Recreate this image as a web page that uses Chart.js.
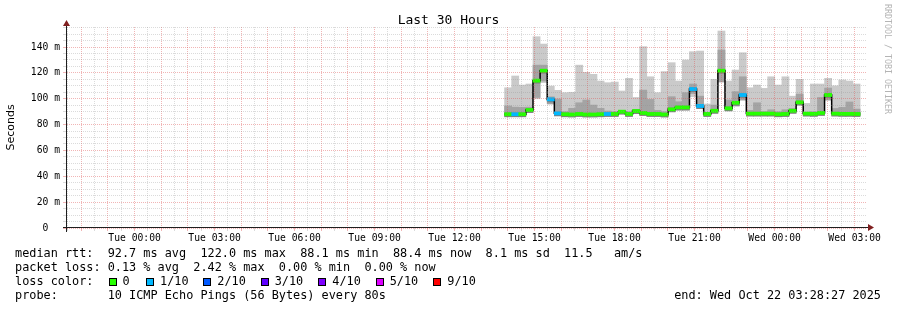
<!DOCTYPE html>
<html><head><meta charset="utf-8">
<script src="https://cdn.jsdelivr.net/npm/chart.js@4.4.1/dist/chart.umd.min.js"></script>
<style>
html,body{margin:0;padding:0;background:#fff;}
#wrap{position:relative;width:897px;height:310px;overflow:hidden;background:#fff;}
#c{position:absolute;left:0;top:0;}
.t{position:absolute;white-space:pre;font-family:"DejaVu Sans Mono",monospace;color:#000;line-height:1;}
.sq{position:absolute;width:6px;height:6px;border:1px solid #000;}
</style></head><body>
<div id="wrap"><canvas id="c" width="897" height="310"></canvas></div>
<script>
// ---- data (milliseconds) ----
const binStartHour = 13.875;   // first bin start, hours after Tue 00:00
const binMinutes = 16;
const median = [88.0, 88.0, 88.0, 91.3, 114.0, 121.7, 99.5, 88.7, 88.0, 87.8,
                88.2, 87.8, 87.8, 88.0, 88.2, 88.2, 90.0, 88.2, 90.5, 89.0,
                88.2, 88.2, 87.8, 91.8, 93.3, 93.3, 107.5, 94.4, 88.2, 90.7,
                121.7, 92.6, 96.9, 102.9, 88.5, 88.5, 88.5, 88.5, 88.0, 88.2,
                90.7, 97.2, 88.5, 88.3, 89.0, 102.9, 88.5, 88.3, 88.3, 88.2];
const lossLevel = [0,1,0,0,0,0,1,1,0,0, 0,0,0,0,1,0,0,0,0,0,
                   0,0,0,0,0,0,1,1,0,0, 0,0,0,1,0,0,0,0,0,0,
                   0,0,0,0,0,0,0,0,0,0];
const smokeHi = [108.5,117.6,110.6,111.4,148.0,142.3,109.8,106.5,104.7,105.0,
                 126.0,120.4,118.9,113.7,112.4,112.9,106.0,115.8,101.0,140.3,
                 117.0,104.7,121.0,127.9,113.7,130.0,136.4,136.9,95.9,115.0,
                 152.4,113.7,122.2,135.6,108.5,110.6,108.0,117.0,110.6,117.0,
                 102.0,115.0,96.4,111.4,111.4,115.8,110.0,114.5,113.7,111.4];
const smokeLo = [86.8,86.8,86.8,89.5,100.0,112.5,96.0,87.3,86.8,86.5,
                 86.8,86.5,86.5,86.8,87.0,87.0,88.5,87.0,89.0,87.5,
                 87.0,87.0,86.5,90.0,91.3,91.3,101.6,92.6,87.0,89.0,
                 113.0,90.7,94.4,99.0,87.3,87.3,87.3,87.3,86.8,87.0,
                 89.0,95.1,87.3,87.0,87.6,99.0,87.3,87.0,87.0,87.0];
const midLo = [86.8,86.8,86.8,89.5,101.0,113.7,96.0,87.3,86.8,86.5,
               86.8,86.5,86.5,86.8,87.0,87.0,88.5,87.0,89.0,87.5,
               87.0,87.0,86.5,90.0,91.3,91.3,104.0,92.6,87.0,89.0,
               113.0,90.7,94.4,99.0,87.3,87.3,87.3,87.3,86.8,87.0,
               89.0,95.1,87.3,87.0,87.6,99.0,87.3,87.0,87.0,87.0];
const midHi = [94.4,93.5,93.3,93.5,126.0,126.0,101.5,99.8,90.0,92.6,
               96.9,99.0,95.1,92.6,90.5,90.0,91.0,90.0,91.5,106.7,
               99.5,91.0,90.0,101.6,97.7,104.7,111.4,102.0,89.5,95.1,
               137.7,99.0,105.5,117.0,91.0,96.9,90.0,91.5,90.0,91.5,
               92.5,103.6,89.5,90.0,101.0,108.3,92.5,93.3,97.5,92.0];

const xTickHours = [0, 3, 6, 9, 12, 15, 18, 21, 24, 27];
const xTickLabels = ['Tue 00:00','Tue 03:00','Tue 06:00','Tue 09:00','Tue 12:00',
                     'Tue 15:00','Tue 18:00','Tue 21:00','Wed 00:00','Wed 03:00'];
const yTickValues = [0, 20, 40, 60, 80, 100, 120, 140];
const yTickLabels = ['0  ', '20 m', '40 m', '60 m', '80 m', '100 m', '120 m', '140 m'];

const lossColors = ['#26ff00','#00b8ff','#0059ff','#5e00ff','#7e00ff','#dd00ff','#ff0000'];
const lossLabels = ['0','1/10','2/10','3/10','4/10','5/10','9/10'];

const rttLine = 'median rtt:  92.7 ms avg  122.0 ms max  88.1 ms min  88.4 ms now  8.1 ms sd  11.5   am/s';
const lossLine = 'packet loss: 0.13 % avg  2.42 % max  0.00 % min  0.00 % now';
const probeLine = 'probe:       10 ICMP Echo Pings (56 Bytes) every 80s';
const endText = 'end: Wed Oct 22 03:28:27 2025';
const titleText = 'Last 30 Hours';

// ---- layout ----
const xMin = -2.5333, xMax = 27.4667;
const stepH = binMinutes / 60;
const N = median.length;
const centers = median.map((_, i) => binStartHour + (i + 0.5) * stepH);
const starts = median.map((_, i) => binStartHour + i * stepH);
const band = (a, b) => centers.map((x, i) => ({x, y: [a[i], b[i]]}));
const MINOR = 'rgba(143,143,143,0.32)';
const MAJOR = 'rgba(222,79,79,0.42)';
const mono = 'DejaVu Sans Mono';
const isMajorX = c => !!c.tick && Math.abs(c.tick.value - Math.round(c.tick.value)) < 1e-6;
const isMajorY = c => !!c.tick && Math.abs(c.tick.value % 20) < 1e-6;

const barBase = {type: 'bar', grouped: false, barPercentage: 1, categoryPercentage: 1, borderWidth: 0};
const noPad = s => { s.paddingLeft = 0; s.paddingRight = 0; s.paddingTop = 0; s.paddingBottom = 0; };

const axesPlugin = {
  id: 'rrdAxes',
  afterDraw(chart) {
    const {ctx, chartArea: a} = chart;
    const yb = Math.round(a.bottom) - 0.5, xl = Math.round(a.left) - 0.5;
    ctx.save();
    ctx.strokeStyle = '#1f1f1f'; ctx.lineWidth = 1;
    ctx.beginPath();
    ctx.moveTo(a.left - 4, yb); ctx.lineTo(a.right + 2, yb);
    ctx.moveTo(xl, a.bottom + 4); ctx.lineTo(xl, a.top - 2);
    ctx.stroke();
    ctx.fillStyle = '#801f1f';
    ctx.beginPath();
    ctx.moveTo(a.right + 1, yb - 3.5); ctx.lineTo(a.right + 1, yb + 3.5); ctx.lineTo(a.right + 7, yb); ctx.closePath();
    ctx.fill();
    ctx.beginPath();
    ctx.moveTo(xl - 3.5, a.top - 1); ctx.lineTo(xl + 3.5, a.top - 1); ctx.lineTo(xl, a.top - 7); ctx.closePath();
    ctx.fill();
    ctx.restore();
  }
};

try {
new Chart(document.getElementById('c'), {
  type: 'bar',
  data: {
    datasets: [
      Object.assign({}, barBase, {data: band(smokeLo, smokeHi), backgroundColor: '#cacaca', order: 5}),
      Object.assign({}, barBase, {data: band(midLo, midHi), backgroundColor: '#a4a4a4', order: 4}),
      Object.assign({}, barBase, {data: centers.map((x, i) => ({x, y: [median[i] - 2.0, median[i] + 1.0]})), backgroundColor: '#7e7e7e', order: 3}),
      {type: 'line', order: 2, stepped: true, borderColor: '#000', borderWidth: 1.5, pointRadius: 0,
       data: starts.map((x, i) => ({x, y: median[i]})).concat([{x: binStartHour + N * stepH, y: median[N - 1]}])},
      Object.assign({}, barBase, {data: centers.map((x, i) => ({x, y: [median[i] - 1.2, median[i] + 1.2]})),
        backgroundColor: lossLevel.map(l => lossColors[l]), order: 1})
    ]
  },
  options: {
    responsive: false, animation: false,
    layout: {padding: {left: 0, top: 27, right: 30, bottom: 0}},
    plugins: {legend: {display: false}, tooltip: {enabled: false}, title: {display: false}},
    scales: {
      x: {
        type: 'linear', min: xMin, max: xMax, offset: false,
        afterBuildTicks: s => { const t = []; for (let v = -2.5; v <= 27.01; v += 0.5) t.push({value: v}); s.ticks = t; },
        afterFit: s => { s.height = 82; noPad(s); },
        grid: {z: 1, lineWidth: 1, tickLength: 3, offset: false,
               color: c => (isMajorX(c) ? MAJOR : MINOR),
               tickColor: c => (isMajorX(c) ? MAJOR : MINOR)},
        border: {display: false, dash: [1, 1]},
        ticks: {autoSkip: false, maxRotation: 0, minRotation: 0, padding: 2, color: '#000',
                font: {family: mono, size: 9.7},
                callback: v => { const k = xTickHours.findIndex(h => Math.abs(h - v) < 1e-6); return k >= 0 ? xTickLabels[k] : ''; }}
      },
      y: {
        min: 0, max: 155.5,
        afterBuildTicks: s => { const t = []; for (let v = 0; v <= 155; v += 5) t.push({value: v}); s.ticks = t; },
        afterFit: s => { s.width = 67; noPad(s); },
        grid: {z: 1, lineWidth: 1, tickLength: 4,
               color: c => (isMajorY(c) ? MAJOR : MINOR),
               tickColor: c => (isMajorY(c) ? MAJOR : MINOR)},
        border: {display: false, dash: [1, 1]},
        ticks: {autoSkip: false, padding: 3, color: '#000', font: {family: mono, size: 9.7},
                callback: v => { const k = yTickValues.indexOf(v); return k >= 0 ? yTickLabels[k] : ''; }},
        title: {display: true, text: 'Seconds', color: '#000', font: {family: 'DejaVu Sans', size: 11},
                padding: {top: 4.2, bottom: 0}}
      }
    }
  },
  plugins: [axesPlugin]
});
} catch (e) { console.error(e); }

// ---- text blocks ----
const wrap = document.getElementById('wrap');
function txt(s, left, base, size, extra) {
  const d = document.createElement('div');
  d.className = 't'; d.textContent = s;
  d.style.fontSize = size + 'px';
  d.style.top = (base - 0.846 * size) + 'px';
  if (left !== null) d.style.left = left + 'px';
  if (extra) Object.assign(d.style, extra);
  wrap.appendChild(d);
  return d;
}
const LF = 11.85;
txt(titleText, 0, 24, 13, {width: '897px', textAlign: 'center'});
txt(rttLine, 15, 257.7, LF);
txt(lossLine, 15, 271.9, LF);
txt('loss color:', 15, 286, LF);
const sqX = [108.5, 146, 203.3, 260.7, 318.3, 375.7, 433.3];
lossLabels.forEach((s, i) => {
  const q = document.createElement('div');
  q.className = 'sq'; q.style.left = sqX[i] + 'px'; q.style.top = '278px'; q.style.background = lossColors[i];
  wrap.appendChild(q);
  txt(s, sqX[i] + 14, 286, LF);
});
txt(probeLine, 15, 300.1, LF);
txt(endText, null, 300.1, LF, {right: '16px'});
txt('RRDTOOL / TOBI OETIKER', 883.5, 4, 8.3, {writingMode: 'vertical-rl', color: '#b4b4b4', top: '4px'});
</script>
</body></html>
